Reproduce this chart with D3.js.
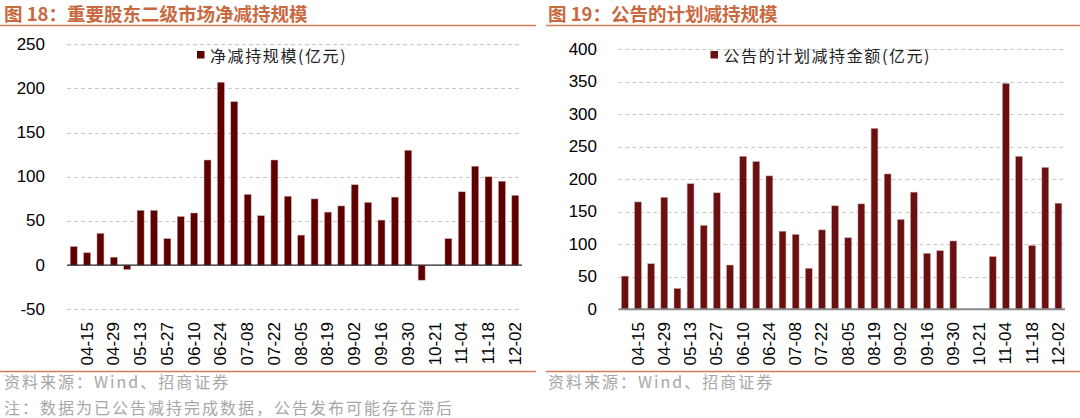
<!DOCTYPE html>
<html>
<head>
<meta charset="utf-8">
<script src="https://cdn.jsdelivr.net/npm/d3@7"></script>
<style>
  body { margin: 0; background: #fff; }
  svg { display: block; }
  .title { font-family: "Noto Sans CJK SC", sans-serif; font-weight: 700; font-size: 18.5px; fill: #c8693f; }
  .tick-y { font-family: "Liberation Sans", Arial, sans-serif; font-size: 17px; fill: #000; }
  .tick-x { font-family: "Liberation Sans", Arial, sans-serif; font-size: 17px; fill: #000; }
  .legend { font-family: "Noto Sans CJK SC", sans-serif; font-size: 16px; fill: #222; letter-spacing: 1.6px; }
  .note { font-family: "Noto Sans CJK SC", sans-serif; font-size: 16px; fill: #a6a6a6; letter-spacing: 2px; }
</style>
</head>
<body>
<svg id="chart" width="1080" height="418"></svg>
<script>
// weekly dates (week of 10-07 missing: holiday)
const weeks = ["04-08","04-15","04-22","04-29","05-06","05-13","05-20","05-27","06-03","06-10",
  "06-17","06-24","07-01","07-08","07-15","07-22","07-29","08-05","08-12","08-19",
  "08-26","09-02","09-09","09-16","09-23","09-30","10-14","10-21","10-28","11-04",
  "11-11","11-18","11-25","12-02"];
const tickWeeks = ["04-15","04-29","05-13","05-27","06-10","06-24","07-08","07-22","08-05",
  "08-19","09-02","09-16","09-30","10-21","11-04","11-18","12-02"];

// Fig 18: net reduction by major shareholders (亿元)
const netReduction = [21, 14, 36, 9, -5, 62, 62, 30, 55, 59,
  119, 207, 185, 80, 56, 119, 78, 34, 75, 60,
  67, 91, 71, 51, 77, 130, -17, 0, 30, 83,
  112, 100, 95, 79];
const leftTicks = [-50, 0, 50, 100, 150, 200, 250];

// Fig 19: announced planned reduction amount (亿元)
const plannedReduction = [51, 165, 70, 172, 32, 193, 129, 179, 68, 235,
  227, 205, 120, 115, 63, 122, 159, 110, 162, 278,
  208, 138, 180, 86, 90, 105, 0, 0, 81, 347,
  235, 98, 218, 163];
const rightTicks = [0, 50, 100, 150, 200, 250, 300, 350, 400];

const svg = d3.select("#chart");

function drawPanel(opts) {
  const g = svg.append("g");

  // Title and rules
  g.append("text").attr("class", "title")
    .attr("x", opts.titleX).attr("y", 20.5).text(opts.title);
  g.append("line")
    .attr("x1", opts.ruleX0).attr("x2", opts.ruleX1)
    .attr("y1", 25.5).attr("y2", 25.5)
    .attr("stroke", "#d27c57").attr("stroke-width", 1.5);
  g.append("line")
    .attr("x1", opts.ruleX0).attr("x2", opts.ruleX1)
    .attr("y1", 371.5).attr("y2", 371.5)
    .attr("stroke", "#d27c57").attr("stroke-width", 1.5);

  const x = d3.scaleBand().domain(weeks).range([opts.x0, opts.x1]).paddingInner(0.48).paddingOuter(0.24);
  const y = d3.scaleLinear().domain(opts.domain).range([309.3, opts.yTop]);

  // Gridlines
  g.append("g").selectAll("line")
    .data(opts.ticks.filter(t => t !== 0))
    .join("line")
    .attr("x1", opts.x0).attr("x2", opts.x1)
    .attr("y1", d => Math.round(y(d)) + 0.5).attr("y2", d => Math.round(y(d)) + 0.5)
    .attr("stroke", "#c8c8c8").attr("stroke-dasharray", "4,3");

  // Y labels
  g.append("g").selectAll("text")
    .data(opts.ticks)
    .join("text")
    .attr("class", "tick-y")
    .attr("x", opts.yLabelX).attr("y", d => y(d))
    .attr("text-anchor", "end").attr("dominant-baseline", "central")
    .text(d => d);

  // Bars
  g.append("g").selectAll("rect")
    .data(opts.values)
    .join("rect")
    .attr("x", (d, i) => x(weeks[i]))
    .attr("width", x.bandwidth())
    .attr("y", d => y(Math.max(0, d)))
    .attr("height", d => Math.abs(y(d) - y(0)))
    .attr("fill", opts.color)
    .attr("stroke", "#c9a3a3").attr("stroke-width", 0.5);

  // Zero axis
  g.append("line")
    .attr("x1", opts.x0).attr("x2", opts.x1)
    .attr("y1", y(0)).attr("y2", y(0))
    .attr("stroke", opts.axisColor).attr("stroke-width", opts.axisWidth);

  // X labels
  g.append("g").selectAll("text")
    .data(tickWeeks)
    .join("text")
    .attr("class", "tick-x")
    .attr("transform", d => `translate(${x(d) + x.bandwidth() / 2},322) rotate(-90)`)
    .attr("text-anchor", "end").attr("dominant-baseline", "central")
    .text(d => d);

  // Legend
  g.append("rect")
    .attr("x", opts.legendX).attr("y", 51)
    .attr("width", 7.5).attr("height", 7.5)
    .attr("fill", opts.color);
  g.append("text").attr("class", "legend")
    .attr("x", opts.legendX + 13).attr("y", 55)
    .attr("dominant-baseline", "central")
    .text(opts.legend);

  // Source
  g.append("text").attr("class", "note")
    .attr("x", opts.titleX).attr("y", 388)
    .text("资料来源：Wind、招商证券");
}

drawPanel({
  title: "图 18：重要股东二级市场净减持规模",
  titleX: 4, ruleX0: 0, ruleX1: 536,
  x0: 67, x1: 522, yTop: 44.3, domain: [-50, 250], ticks: leftTicks,
  yLabelX: 45, values: netReduction, color: "#5e0000",
  axisColor: "#222", axisWidth: 1.2,
  legendX: 197, legend: "净减持规模(亿元)"
});

drawPanel({
  title: "图 19：公告的计划减持规模",
  titleX: 548, ruleX0: 546, ruleX1: 1080,
  x0: 618.3, x1: 1065, yTop: 49, domain: [0, 400], ticks: rightTicks,
  yLabelX: 597, values: plannedReduction, color: "#6b1010",
  axisColor: "#888", axisWidth: 2,
  legendX: 710.5, legend: "公告的计划减持金额(亿元)"
});

svg.append("text").attr("class", "note")
  .attr("x", 4).attr("y", 414)
  .text("注：数据为已公告减持完成数据，公告发布可能存在滞后");
</script>
</body>
</html>
